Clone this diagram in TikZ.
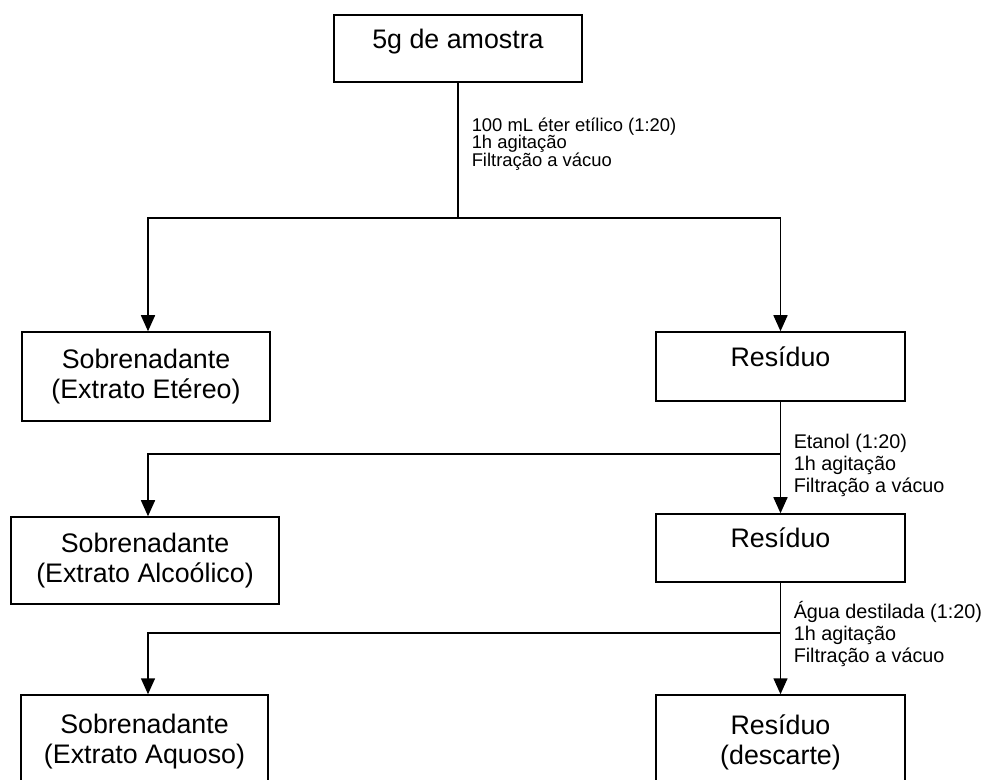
\documentclass[tikz,border=0pt]{standalone}
\usepackage{fontspec}
\setmainfont{Liberation Sans}
\usetikzlibrary{arrows.meta}
\newcommand\rotulo{\fontsize{9.2}{8.6}\selectfont\lineskiplimit=-9pt\relax}
\begin{document}
\begin{tikzpicture}[x=0.5pt,y=-0.5pt,line width=0.75pt,line join=miter,>={Triangle[length=8pt,width=7pt]}]
	\tikzset{caixa/.style={draw,fill=white,align=center,inner sep=0pt,font=\fontsize{13.4}{15}\selectfont},
		passo/.style={align=left,anchor=west,inner sep=0pt}}
	\useasboundingbox (0,0) rectangle (986,780);
	\clip (0,0) rectangle (986,780);
	\node[caixa,minimum width=124pt,minimum height=33.5pt,text depth=9.5pt] (amostra) at (458,48.5) {5g de amostra};
	\node[caixa,minimum width=124pt,minimum height=44.5pt] (etereo) at (146,376.5) {Sobrenadante\\(Extrato Etéreo)};
	\node[caixa,minimum width=124.5pt,minimum height=34.5pt,text depth=9.8pt] (res1) at (780.5,366.5) {Resíduo};
	\node[caixa,minimum width=134pt,minimum height=43.5pt] (alcool) at (145,560.5) {Sobrenadante\\(Extrato Alcoólico)};
	\node[caixa,minimum width=124.5pt,minimum height=34pt,text depth=10.8pt] (res2) at (780.5,548) {Resíduo};
	\node[caixa,minimum width=123.5pt,minimum height=47pt] (aquoso) at (144.5,742) {Sobrenadante\\(Extrato Aquoso)};
	\node[caixa,minimum width=124.5pt,minimum height=47pt] (res3) at (780.5,742) {Resíduo\\(descarte)};
	\coordinate (j1) at (458,218);
	\coordinate (j2) at (780.5,454);
	\coordinate (j3) at (780.5,633);
	\draw (amostra) -- (j1);
	\draw[->] (j1) -| (etereo.north -| 148,0);
	\draw[->] (j1) -| (res1.north);
	\draw[->] (res1) -- (res2);
	\draw[->] (j2) -| (alcool.north -| 148,0);
	\draw[->] (res2) -- (res3);
	\draw[->] (j3) -| (aquoso.north -| 148,0);
	\node[passo,font=\rotulo] (t1) at (471,144) {100 mL éter etílico (1:20)\\1h agitação\\Filtração a vácuo};
	\node[passo,font=\fontsize{9.9}{11}\selectfont] (t2) at (793,465) {Etanol (1:20)\\1h agitação\\Filtração a vácuo};
	\node[passo,font=\fontsize{9.9}{11}\selectfont] (t3) at (793,634) {Água destilada (1:20)\\1h agitação\\Filtração a vácuo};
\end{tikzpicture}
\end{document}
